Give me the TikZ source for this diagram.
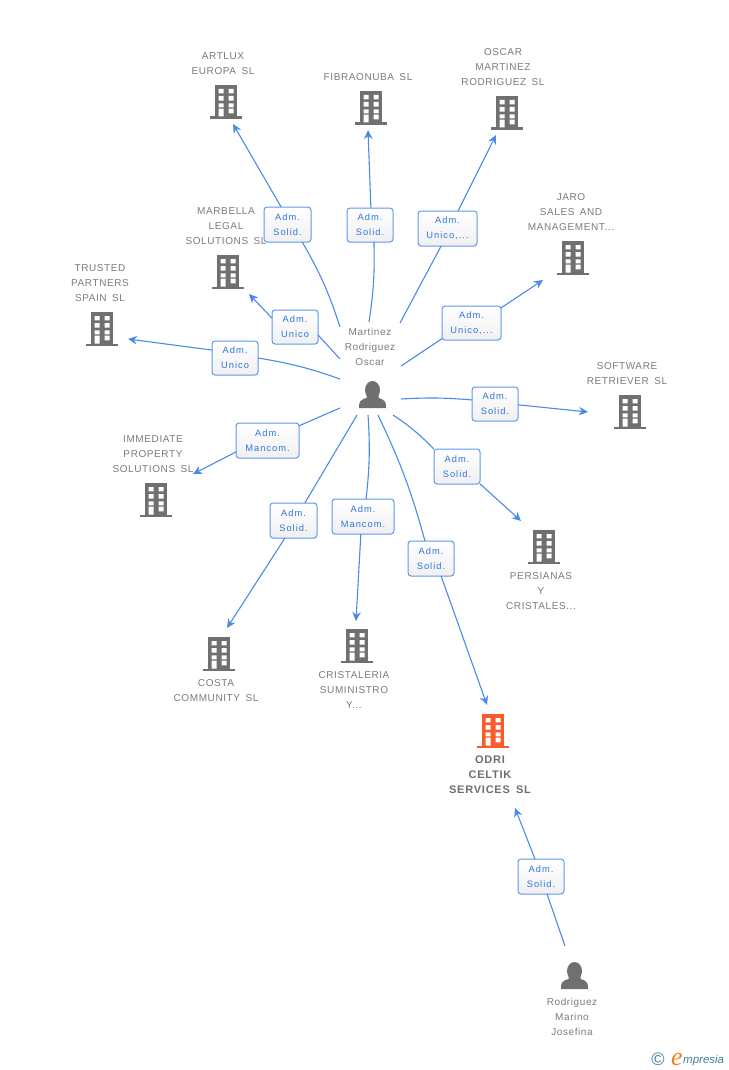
\documentclass[tikz,border=0pt]{standalone}
\usepackage{fontspec}
\usetikzlibrary{arrows.meta}
\newfontfamily\lab[LetterSpace=6,WordSpace=1.6]{Liberation Sans}
\newfontfamily\labr[LetterSpace=11,WordSpace=1.6]{Liberation Sans}
\newfontfamily\labb[LetterSpace=7,WordSpace=1.6]{Liberation Sans}
\newfontfamily\logof{Liberation Sans}
\newfontfamily\logos{Liberation Serif}
\definecolor{linkc}{HTML}{4A8BE8}
\definecolor{boxc}{HTML}{5F98EA}
\definecolor{boxt}{HTML}{2F75DC}
\definecolor{greyi}{HTML}{707070}
\definecolor{greyt}{HTML}{7A7A7A}
\definecolor{orangei}{HTML}{FB5A2B}
\definecolor{logot}{HTML}{3F7F96}
\definecolor{logoo}{HTML}{F08020}
\tikzset{
  x=1pt,y=-1pt,
  lbl/.style={align=center,text=greyt,inner sep=0pt,font=\fontsize{10}{15}\selectfont\lab},
  lblb/.style={align=center,text=greyt!90!black,inner sep=0pt,font=\fontsize{11}{15}\selectfont\labb\bfseries},
  role/.style={draw=boxc,line width=1pt,rounded corners=3pt,top color=white,bottom color=black!6,
    inner sep=0pt,outer sep=0pt,align=center,text=boxt,font=\fontsize{9.3}{15}\selectfont\labr},
  link/.style={draw=linkc,line width=1.1pt},
  tip/.style={link,-{Stealth[length=9pt,width=8.5pt]}},
  pics/bldg/.style={code={
    \fill[#1] (-11,-34) rectangle (11,-2);
    \fill[#1] (-16,-2.5) rectangle (16,0);
    \fill[white]
      (-7.3,-30) rectangle (-2.3,-25.7) (2.7,-30) rectangle (7.7,-25.7)
      (-7.3,-23) rectangle (-2.3,-18.3) (2.7,-23) rectangle (7.7,-18.3)
      (-7.3,-15.7) rectangle (-2.3,-11.7) (2.7,-15.7) rectangle (7.7,-11.7)
      (-7.3,-10.3) rectangle (-2.3,-2.5) (2.7,-10.3) rectangle (7.7,-5.7);
  }},
  pics/person/.style={code={
    \fill[greyi] (0,-18) ellipse (7.5 and 9);
    \fill[greyi] (-13.5,0) .. controls (-13.5,-6) and (-13,-8) .. (-6,-10)
      -- (-6,-14) -- (6,-14) -- (6,-10) .. controls (13,-8) and (13.5,-6) .. (13.5,0) -- cycle;
  }}
}
\begin{document}
\begin{tikzpicture}
\useasboundingbox (0,0) rectangle (728,1070);
% icons
\pic at (226,119) {bldg=greyi};
\pic at (371,125) {bldg=greyi};
\pic at (507,130) {bldg=greyi};
\pic at (573,275) {bldg=greyi};
\pic at (228,289) {bldg=greyi};
\pic at (102,346) {bldg=greyi};
\pic at (630,429) {bldg=greyi};
\pic at (156,517) {bldg=greyi};
\pic at (544,564) {bldg=greyi};
\pic at (219,671) {bldg=greyi};
\pic at (357,663) {bldg=greyi};
\pic at (493,748) {bldg=orangei};
\pic at (372.5,408) {person};
\pic at (574.5,989) {person};
% names
\node[lbl] (nART) at (223,63.5) {ARTLUX\\EUROPA SL};
\node[lbl] (nFIB) at (368,77) {FIBRAONUBA SL};
\node[lbl] (nOSC) at (503,67) {OSCAR\\MARTINEZ\\RODRIGUEZ SL};
\node[lbl] (nJAR) at (571,212) {JARO\\SALES AND\\MANAGEMENT...};
\node[lbl] (nMAR) at (226,226) {MARBELLA\\LEGAL\\SOLUTIONS SL};
\node[lbl] (nTRU) at (100,283) {TRUSTED\\PARTNERS\\SPAIN SL};
\node[lbl] (nMOR) at (370,347) {Martinez\\Rodriguez\\Oscar};
\node[lbl] (nSOF) at (627,373.5) {SOFTWARE\\RETRIEVER SL};
\node[lbl] (nIMM) at (153,454) {IMMEDIATE\\PROPERTY\\SOLUTIONS SL};
\node[lbl] (nPER) at (541,591) {PERSIANAS\\Y\\CRISTALES...};
\node[lbl] (nCOS) at (216,690.5) {COSTA\\COMMUNITY SL};
\node[lbl] (nCRI) at (354,690) {CRISTALERIA\\SUMINISTRO\\Y...};
\node[lblb] (nODR) at (490,775) {ODRI\\CELTIK\\SERVICES SL};
\node[lbl] (nROD) at (572,1017) {Rodriguez\\Marino\\Josefina};
% role boxes
\node[role,minimum width=47pt,minimum height=35pt] (bART) at (287.5,224.5) {Adm.\\Solid.};
\node[role,minimum width=46pt,minimum height=34pt] (bFIB) at (370,225) {Adm.\\Solid.};
\node[role,minimum width=59pt,minimum height=35pt] (bOSC) at (447.5,228.5) {Adm.\\Unico,...};
\node[role,minimum width=59pt,minimum height=34pt] (bJAR) at (471.5,323) {Adm.\\Unico,...};
\node[role,minimum width=46pt,minimum height=34pt] (bSOF) at (495,404) {Adm.\\Solid.};
\node[role,minimum width=46pt,minimum height=35pt] (bPER) at (457,466.5) {Adm.\\Solid.};
\node[role,minimum width=46pt,minimum height=35pt] (bODR) at (431,558.5) {Adm.\\Solid.};
\node[role,minimum width=62pt,minimum height=35pt] (bCRI) at (363,516.5) {Adm.\\Mancom.};
\node[role,minimum width=47pt,minimum height=35pt] (bCOS) at (293.5,520.5) {Adm.\\Solid.};
\node[role,minimum width=63pt,minimum height=35pt] (bIMM) at (267.5,440.5) {Adm.\\Mancom.};
\node[role,minimum width=46pt,minimum height=34pt] (bTRU) at (235,358) {Adm.\\Unico};
\node[role,minimum width=46pt,minimum height=34pt] (bMAR) at (295,327) {Adm.\\Unico};
\node[role,minimum width=46pt,minimum height=35pt] (bROD) at (541,876.5) {Adm.\\Solid.};
% connector ends
\coordinate (hART) at (340,327); \coordinate (tART) at (233,124);
\coordinate (hFIB) at (369,322); \coordinate (tFIB) at (368,130);
\coordinate (hOSC) at (400,323); \coordinate (tOSC) at (496,135);
\coordinate (hJAR) at (401,366); \coordinate (tJAR) at (543,280);
\coordinate (hSOF) at (401,399); \coordinate (tSOF) at (588,412);
\coordinate (hPER) at (393,415); \coordinate (tPER) at (521,521);
\coordinate (hODR) at (378,415); \coordinate (tODR) at (487,705);
\coordinate (hCRI) at (368,415); \coordinate (tCRI) at (356,621);
\coordinate (hCOS) at (357,415); \coordinate (tCOS) at (227,628);
\coordinate (hIMM) at (340,408); \coordinate (tIMM) at (193,474);
\coordinate (hTRU) at (340,379); \coordinate (tTRU) at (128,339);
\coordinate (hMAR) at (340,359); \coordinate (tMAR) at (249,294);
\coordinate (hROD) at (565,946); \coordinate (tROD) at (515,808);
% connectors
\draw[link] (hART) to[bend right=6] (bART.-50);  \draw[tip] (bART.110) -- (tART);
\draw[link] (hFIB) to[bend right=5] (bFIB.-77);  \draw[tip] (bFIB.87) -- (tFIB);
\draw[link] (hOSC) -- (bOSC.-110);               \draw[tip] (bOSC.59) -- (tOSC);
\draw[link] (hJAR) -- (bJAR.-152);               \draw[tip] (bJAR.27) -- (tJAR);
\draw[link] (hSOF) to[bend left=4] (bSOF.170);   \draw[tip] (bSOF.-2.5) -- (tSOF);
\draw[link] (hPER) to[bend left=6] (bPER.143);   \draw[tip] (bPER.-37) -- (tPER);
\draw[link] (hODR) to[bend left=5] (bODR.109);   \draw[tip] (bODR.-60) -- (tODR);
\draw[link] (hCRI) to[bend left=5] (bCRI.80);    \draw[tip] (bCRI.-97) -- (tCRI);
\draw[link] (hCOS) -- (bCOS.57);                 \draw[tip] (bCOS.-116) -- (tCOS);
\draw[link] (hIMM) -- (bIMM.25);                 \draw[tip] (bIMM.-160) -- (tIMM);
\draw[link] (hTRU) to[bend right=5] (bTRU.0);    \draw[tip] (bTRU.161) -- (tTRU);
\draw[link] (hMAR) -- (bMAR.-19);                \draw[tip] (bMAR.159) -- (tMAR);
\draw[link] (hROD) -- (bROD.-71);                \draw[tip] (bROD.109) -- (tROD);
% logo
\node[inner sep=0pt,text=logot,font=\fontsize{18}{18}\selectfont\logof] (lc) at (658,1059) {©};
\node[inner sep=0pt,anchor=base,text=logoo,font=\fontsize{26}{26}\selectfont\logos\itshape] (le) at (677,1065) {e};
\node[inner sep=0pt,anchor=base west,text=logot,font=\fontsize{11.5}{13}\selectfont\logof\itshape] (lm) at (683,1063) {mpresia};
\end{tikzpicture}
\end{document}
